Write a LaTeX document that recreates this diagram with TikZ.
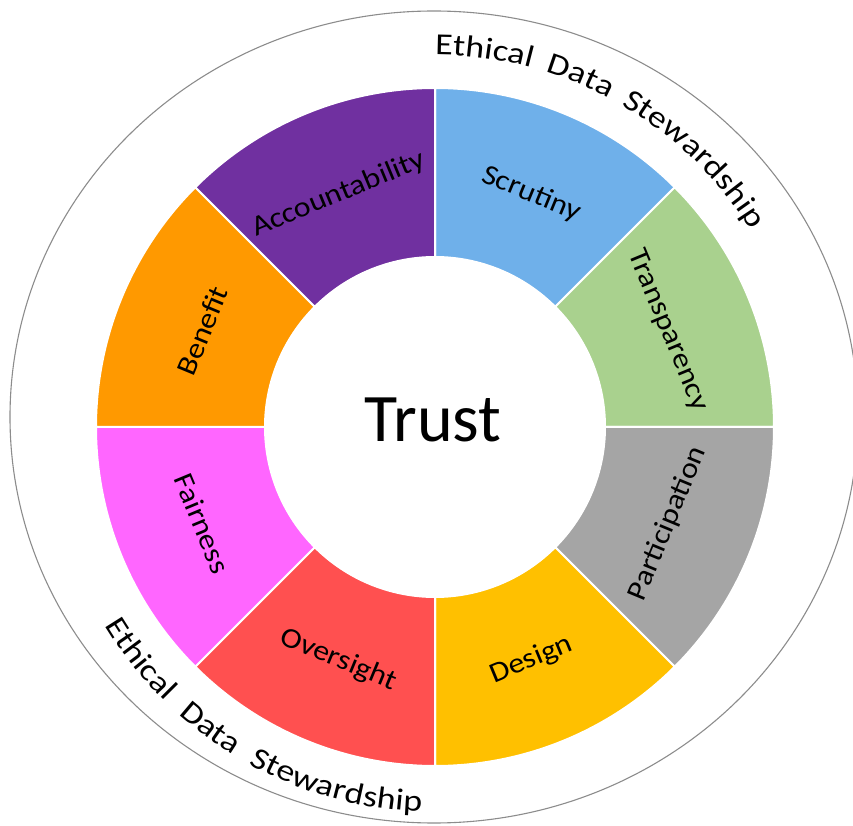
\documentclass[tikz,border=0pt]{standalone}
\usepackage{fontspec}
\setmainfont{Carlito}
\newfontfamily\widefont[FakeStretch=1.12]{Carlito}
\newfontfamily\ringfont[FakeStretch=1.18]{Carlito}
\usetikzlibrary{decorations.text}

\definecolor{cScrutiny}{HTML}{6FB0EA}
\definecolor{cTransparency}{HTML}{A9D18E}
\definecolor{cParticipation}{HTML}{A5A5A5}
\definecolor{cDesign}{HTML}{FFC000}
\definecolor{cOversight}{HTML}{FF5050}
\definecolor{cFairness}{HTML}{FF66FF}
\definecolor{cBenefit}{HTML}{FF9900}
\definecolor{cAccountability}{HTML}{7030A0}
\definecolor{ringgray}{HTML}{8C8C8C}

\tikzset{
  sector/.style={line width=2pt, draw=white},
  seglabel/.style={font=\widefont\fontsize{28.5}{32}\selectfont, text=black, inner sep=0pt},
  ringline/.style={draw=ringgray, line width=1.1pt},
  centrelabel/.style={font=\fontsize{68}{72}\selectfont, inner sep=0pt},
  ringtext/.style={decorate, decoration={text along path,
      text align={fit to path stretching spaces},
      text={|\ringfont\fontsize{30.5}{34}\selectfont|Ethical Data Stewardship}}}
}

\begin{document}
\begin{tikzpicture}[x=1pt, y=1pt]
  \useasboundingbox (-435,-399) rectangle (418,427);

  % outer ring
  \draw[ringline] (-1,10) ellipse [x radius=424pt, y radius=406pt];

  % eight coloured sectors with their labels
  \foreach \a/\c/\t/\r in {45/cScrutiny/Scrutiny/-22.5,
                           0/cTransparency/Transparency/-67.5,
                           -45/cParticipation/Participation/67.5,
                           -90/cDesign/Design/22.5,
                           -135/cOversight/Oversight/-22.5,
                           180/cFairness/Fairness/-67.5,
                           135/cBenefit/Benefit/67.5,
                           90/cAccountability/Accountability/22.5}{
    \pgfmathsetmacro\b{\a+45}
    \pgfmathsetmacro\m{\a+22.5}
    \fill[sector, fill=\c] (\a:170) -- (\a:339)
      arc[start angle=\a, end angle=\b, radius=339pt] -- (\b:170)
      arc[start angle=\b, end angle=\a, radius=170pt] -- cycle;
    \node[seglabel, rotate=\r] (\t) at (\m:252) {\t};
  }

  % centre
  \node[centrelabel] (trust) at (-2,7) {Trust};

  % curved captions
  \path[ringtext] (90:372) arc[start angle=90, end angle=32, radius=372pt];
  \path[ringtext] (-149:385) arc[start angle=-149, end angle=-92, radius=385pt];
\end{tikzpicture}
\end{document}
